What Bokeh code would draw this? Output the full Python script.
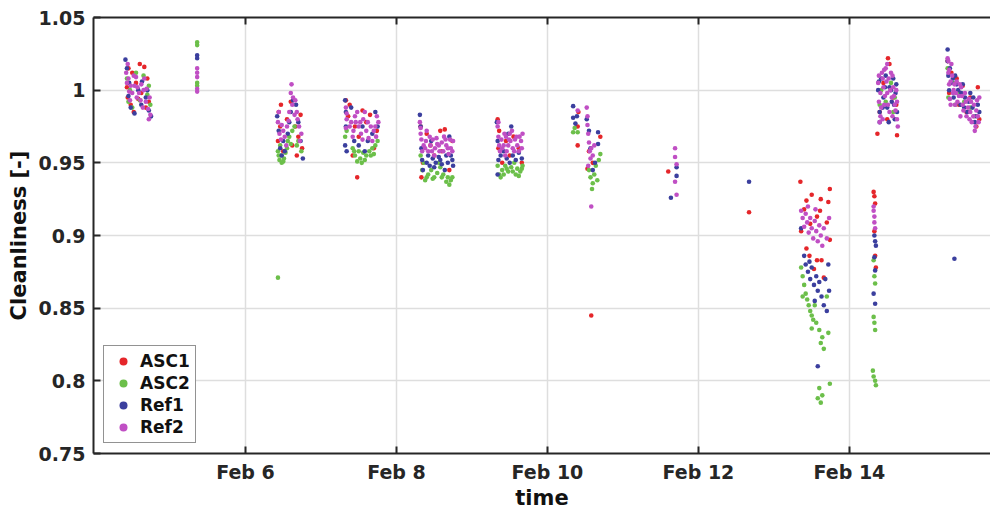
from bokeh.plotting import figure
from bokeh.models import (FixedTicker, CustomJSTickFormatter, NumeralTickFormatter,
                          LinearAxis, Range1d)
from bokeh.embed import file_html
from bokeh.resources import INLINE

# ---------------- data (time in days of February, cleanliness [-]) ----------------
series_names = ["ASC1", "ASC2", "Ref1", "Ref2"]
series_colors = ["#e5262a", "#6cbf4a", "#3b3f9e", "#c04fc4"]
x_tick_days = [6, 8, 10, 12, 14]
y_ticks = [0.75, 0.8, 0.85, 0.9, 0.95, 1.0, 1.05]

asc1_points = [
    (4.45, 1.015), (4.50, 1.012), (4.60, 1.018), (4.66, 1.016), (4.44, 0.995), (4.48, 0.990),
    (4.55, 1.005), (4.62, 0.998), (4.70, 1.008), (4.72, 0.992), (4.52, 0.985), (4.68, 0.988),
    (4.43, 1.002), (4.58, 0.994),
    (6.44, 0.985), (6.46, 0.975), (6.43, 0.965), (6.50, 0.958), (6.55, 0.980), (6.60, 0.992),
    (6.66, 0.975), (6.70, 0.968), (6.73, 0.983), (6.75, 0.960), (6.62, 0.962), (6.68, 0.955),
    (6.47, 0.990),
    (7.33, 0.993), (7.38, 0.990), (7.55, 0.986), (7.45, 0.975), (7.50, 0.968), (7.60, 0.978),
    (7.70, 0.960), (7.74, 0.972), (7.48, 0.940), (7.42, 0.955), (7.65, 0.983), (7.36, 0.982),
    (8.32, 0.975), (8.40, 0.970), (8.58, 0.972), (8.64, 0.973), (8.35, 0.950), (8.50, 0.955),
    (8.70, 0.945), (8.45, 0.962), (8.60, 0.958), (8.74, 0.965), (8.33, 0.940),
    (9.34, 0.980), (9.36, 0.972), (9.45, 0.965), (9.55, 0.968), (9.62, 0.960), (9.66, 0.950),
    (9.40, 0.950), (9.50, 0.955), (9.35, 0.960),
    (10.41, 0.985), (10.40, 0.962), (10.40, 0.975), (10.70, 0.968), (10.53, 0.946),
    (10.55, 0.958), (10.60, 0.950), (10.58, 0.845),
    (11.60, 0.944),
    (12.67, 0.916),
    (13.35, 0.937), (13.74, 0.932), (13.50, 0.928), (13.43, 0.924), (13.72, 0.923),
    (13.61, 0.917), (13.57, 0.913), (13.36, 0.903), (13.74, 0.897), (13.43, 0.891),
    (13.47, 0.886), (13.57, 0.883), (13.63, 0.883), (13.53, 0.877), (13.66, 0.871),
    (13.40, 0.918), (13.48, 0.908), (13.70, 0.909), (13.62, 0.925),
    (14.32, 0.930), (14.33, 0.927), (14.34, 0.922), (14.33, 0.903), (14.34, 0.886), (14.35, 0.878),
    (14.51, 1.022), (14.53, 1.018), (14.37, 0.970), (14.63, 0.969), (14.45, 1.005),
    (14.58, 0.995), (14.40, 0.985), (14.62, 0.990), (14.50, 0.980),
    (15.30, 1.020), (15.35, 1.012), (15.42, 1.008), (15.50, 1.003), (15.60, 0.995),
    (15.70, 1.002), (15.72, 0.980), (15.68, 0.975), (15.45, 0.990), (15.55, 0.985), (15.32, 0.998),
]

asc2_points = [
    (4.43, 1.008), (4.47, 1.000), (4.55, 1.012), (4.65, 1.010), (4.70, 0.997), (4.74, 0.990),
    (4.60, 0.993), (4.50, 0.988), (4.45, 0.992), (4.72, 1.003),
    (5.36, 1.033), (5.36, 1.031), (5.36, 1.005), (5.36, 1.003),
    (6.43, 0.958), (6.45, 0.952), (6.48, 0.950), (6.51, 0.953), (6.53, 0.957), (6.46, 0.962),
    (6.58, 0.968), (6.62, 0.972), (6.65, 0.975), (6.70, 0.965), (6.74, 0.958), (6.55, 0.960),
    (6.60, 0.963), (6.44, 0.955), (6.47, 0.955), (6.50, 0.951), (6.56, 0.965), (6.68, 0.962),
    (6.43, 0.871),
    (7.32, 0.968), (7.34, 0.972), (7.42, 0.960), (7.45, 0.955), (7.48, 0.951), (7.52, 0.953),
    (7.56, 0.957), (7.60, 0.955), (7.64, 0.958), (7.68, 0.960), (7.72, 0.962), (7.75, 0.965),
    (7.50, 0.958), (7.44, 0.958), (7.54, 0.950), (7.58, 0.952), (7.66, 0.955), (7.70, 0.956),
    (8.32, 0.955), (8.34, 0.945), (8.38, 0.938), (8.42, 0.942), (8.46, 0.945), (8.50, 0.940),
    (8.54, 0.943), (8.58, 0.947), (8.62, 0.942), (8.66, 0.937), (8.70, 0.935), (8.74, 0.940),
    (8.36, 0.950), (8.56, 0.950), (8.40, 0.940), (8.48, 0.939), (8.60, 0.940), (8.68, 0.940),
    (8.72, 0.938),
    (9.34, 0.948), (9.36, 0.942), (9.40, 0.945), (9.44, 0.948), (9.48, 0.944), (9.52, 0.947),
    (9.56, 0.950), (9.60, 0.946), (9.64, 0.944), (9.67, 0.948), (9.38, 0.940), (9.58, 0.942),
    (9.42, 0.942), (9.46, 0.946), (9.54, 0.944), (9.62, 0.941), (9.66, 0.946),
    (10.34, 0.971), (10.36, 0.974), (10.40, 0.971), (10.55, 0.945), (10.57, 0.940),
    (10.60, 0.936), (10.62, 0.942), (10.64, 0.948), (10.66, 0.938), (10.70, 0.956),
    (10.68, 0.952), (10.59, 0.932),
    (13.36, 0.878), (13.38, 0.872), (13.40, 0.866), (13.42, 0.860), (13.44, 0.856),
    (13.46, 0.852), (13.48, 0.848), (13.50, 0.845), (13.52, 0.842), (13.54, 0.852),
    (13.56, 0.840), (13.60, 0.835), (13.62, 0.826), (13.64, 0.830), (13.72, 0.833),
    (13.50, 0.836), (13.60, 0.795), (13.74, 0.798), (13.58, 0.788), (13.62, 0.785),
    (13.64, 0.790), (13.70, 0.858), (13.38, 0.858), (13.66, 0.822),
    (14.32, 0.883), (14.34, 0.867), (14.33, 0.872), (14.32, 0.844), (14.34, 0.835),
    (14.31, 0.807), (14.32, 0.803), (14.34, 0.800), (14.35, 0.797), (14.33, 0.840),
    (14.42, 1.000), (14.55, 1.005), (14.60, 0.995), (14.40, 0.990), (14.48, 0.992), (14.58, 0.985),
    (15.30, 1.015), (15.31, 0.995), (15.38, 1.005), (15.45, 0.998), (15.52, 0.992),
    (15.60, 0.988), (15.66, 0.982), (15.40, 0.990),
]

ref1_points = [
    (4.41, 1.021), (4.43, 1.015), (4.46, 1.005), (4.48, 0.988), (4.53, 0.984), (4.58, 1.000),
    (4.63, 1.006), (4.68, 0.995), (4.72, 0.986), (4.75, 0.982), (4.70, 1.000), (4.45, 0.996),
    (4.62, 0.990),
    (5.36, 1.024), (5.36, 1.022),
    (6.42, 0.982), (6.44, 0.972), (6.46, 0.960), (6.48, 0.955), (6.52, 0.958), (6.56, 0.970),
    (6.60, 0.985), (6.63, 0.993), (6.67, 0.990), (6.70, 0.978), (6.73, 0.965), (6.76, 0.953),
    (6.50, 0.965), (6.58, 0.978),
    (7.32, 0.993), (7.33, 0.985), (7.33, 0.975), (7.32, 0.962), (7.34, 0.958), (7.40, 0.988),
    (7.44, 0.965), (7.50, 0.962), (7.55, 0.975), (7.62, 0.965), (7.68, 0.970), (7.72, 0.985),
    (7.75, 0.975), (7.58, 0.958),
    (8.31, 0.983), (8.32, 0.975), (8.33, 0.960), (8.35, 0.945), (8.40, 0.950), (8.44, 0.948),
    (8.48, 0.953), (8.52, 0.950), (8.56, 0.954), (8.60, 0.949), (8.64, 0.945), (8.68, 0.950),
    (8.72, 0.955), (8.75, 0.948), (8.70, 0.968), (8.46, 0.965), (8.34, 0.952), (8.42, 0.955),
    (8.50, 0.947), (8.58, 0.952), (8.66, 0.955), (8.74, 0.952),
    (9.33, 0.978), (9.34, 0.965), (9.35, 0.952), (9.38, 0.955), (9.42, 0.958), (9.46, 0.953),
    (9.50, 0.950), (9.54, 0.955), (9.58, 0.952), (9.62, 0.957), (9.66, 0.953), (9.48, 0.970),
    (9.52, 0.975), (9.34, 0.942),
    (10.34, 0.989), (10.34, 0.981), (10.39, 0.982), (10.52, 0.980), (10.55, 0.972),
    (10.67, 0.971), (10.67, 0.963), (10.60, 0.945), (10.63, 0.950), (10.57, 0.960), (10.37, 0.977),
    (11.71, 0.947), (11.71, 0.941), (11.635, 0.926),
    (12.67, 0.937),
    (13.36, 0.905), (13.40, 0.886), (13.42, 0.880), (13.45, 0.875), (13.48, 0.870),
    (13.50, 0.878), (13.53, 0.866), (13.56, 0.872), (13.58, 0.862), (13.60, 0.868),
    (13.63, 0.858), (13.66, 0.852), (13.70, 0.848), (13.73, 0.862), (13.68, 0.870),
    (13.54, 0.855), (13.47, 0.882), (13.58, 0.810), (13.72, 0.880),
    (14.33, 0.900), (14.34, 0.896), (14.35, 0.893), (14.34, 0.876), (14.32, 0.860),
    (14.34, 0.853), (14.33, 0.885),
    (14.38, 1.000), (14.40, 0.985), (14.42, 1.008), (14.45, 0.995), (14.48, 1.010),
    (14.50, 0.988), (14.53, 1.002), (14.56, 0.992), (14.58, 1.008), (14.61, 0.998),
    (14.63, 0.985), (14.40, 0.978), (14.52, 0.978), (14.60, 0.980), (14.39, 1.006),
    (14.44, 0.988), (14.47, 1.002), (14.55, 1.000), (14.59, 0.990), (14.62, 1.004),
    (15.30, 1.028), (15.30, 1.020), (15.31, 1.010), (15.32, 1.000), (15.35, 1.005),
    (15.38, 0.995), (15.40, 1.010), (15.44, 1.000), (15.47, 0.990), (15.50, 1.004),
    (15.53, 0.995), (15.56, 0.985), (15.60, 0.998), (15.63, 0.988), (15.66, 0.978),
    (15.70, 0.990), (15.72, 0.985), (15.33, 1.015), (15.37, 1.008), (15.42, 1.004),
    (15.48, 0.998), (15.52, 0.988), (15.58, 0.992), (15.64, 0.995), (15.68, 0.982),
    (15.39, 0.884),
]

ref2_points = [
    (4.42, 1.012), (4.45, 1.008), (4.48, 1.003), (4.50, 0.998), (4.53, 1.003), (4.56, 0.995),
    (4.59, 0.998), (4.62, 1.004), (4.65, 1.000), (4.68, 0.992), (4.71, 0.987), (4.74, 0.983),
    (4.73, 0.995), (4.47, 0.993), (4.55, 1.009), (4.66, 1.008), (4.44, 1.018), (4.43, 1.005),
    (4.46, 0.999), (4.52, 1.010), (4.57, 1.002), (4.61, 0.993), (4.64, 0.988), (4.69, 1.001),
    (4.72, 0.980),
    (5.36, 1.015), (5.36, 1.012), (5.36, 1.009), (5.36, 1.001), (5.36, 0.999),
    (6.43, 0.978), (6.45, 0.970), (6.47, 0.966), (6.50, 0.972), (6.52, 0.968), (6.55, 0.975),
    (6.58, 0.985), (6.60, 0.998), (6.61, 1.004), (6.63, 0.995), (6.66, 0.993), (6.68, 0.985),
    (6.71, 0.975), (6.74, 0.970), (6.54, 0.962), (6.48, 0.976), (6.44, 0.985), (6.57, 0.979),
    (6.62, 0.990), (6.65, 0.983), (6.69, 0.980), (6.72, 0.965),
    (7.33, 0.988), (7.34, 0.980), (7.33, 0.974), (7.40, 0.978), (7.43, 0.972), (7.46, 0.978),
    (7.50, 0.975), (7.53, 0.970), (7.56, 0.980), (7.60, 0.972), (7.63, 0.967), (7.66, 0.975),
    (7.70, 0.972), (7.73, 0.968), (7.76, 0.978), (7.48, 0.985), (7.58, 0.985), (7.34, 0.984),
    (7.38, 0.975), (7.42, 0.968), (7.45, 0.982), (7.52, 0.978), (7.55, 0.966), (7.62, 0.978),
    (7.68, 0.965), (7.72, 0.975), (7.74, 0.982),
    (8.31, 0.978), (8.32, 0.970), (8.33, 0.966), (8.36, 0.962), (8.39, 0.965), (8.42, 0.958),
    (8.45, 0.962), (8.48, 0.966), (8.51, 0.960), (8.54, 0.963), (8.57, 0.958), (8.60, 0.964),
    (8.63, 0.968), (8.66, 0.962), (8.69, 0.956), (8.72, 0.960), (8.75, 0.965), (8.50, 0.955),
    (8.40, 0.972), (8.32, 0.974), (8.34, 0.958), (8.38, 0.960), (8.44, 0.968), (8.47, 0.958),
    (8.53, 0.967), (8.56, 0.962), (8.62, 0.958), (8.65, 0.966), (8.68, 0.960), (8.71, 0.966),
    (8.74, 0.958),
    (9.34, 0.975), (9.35, 0.968), (9.36, 0.962), (9.39, 0.966), (9.42, 0.962), (9.45, 0.968),
    (9.48, 0.962), (9.51, 0.965), (9.54, 0.960), (9.57, 0.966), (9.60, 0.962), (9.63, 0.968),
    (9.66, 0.960), (9.50, 0.970), (9.44, 0.955), (9.35, 0.978), (9.37, 0.958), (9.40, 0.960),
    (9.43, 0.970), (9.46, 0.958), (9.49, 0.966), (9.53, 0.972), (9.56, 0.958), (9.59, 0.968),
    (9.62, 0.958), (9.65, 0.965), (9.67, 0.970),
    (10.40, 0.986), (10.52, 0.988), (10.53, 0.982), (10.53, 0.976), (10.54, 0.970),
    (10.55, 0.964), (10.56, 0.958), (10.57, 0.953), (10.58, 0.960), (10.60, 0.955),
    (10.62, 0.962), (10.58, 0.920), (10.54, 0.948),
    (11.69, 0.960), (11.69, 0.954), (11.69, 0.937), (11.71, 0.928), (11.71, 0.949),
    (13.36, 0.917), (13.38, 0.912), (13.40, 0.906), (13.42, 0.915), (13.44, 0.909),
    (13.46, 0.902), (13.48, 0.912), (13.50, 0.905), (13.52, 0.898), (13.54, 0.910),
    (13.56, 0.903), (13.58, 0.896), (13.60, 0.907), (13.62, 0.900), (13.64, 0.893),
    (13.66, 0.905), (13.70, 0.898), (13.73, 0.912), (13.45, 0.920), (13.55, 0.918),
    (14.32, 0.917), (14.33, 0.913), (14.33, 0.909), (14.34, 0.905), (14.32, 0.920),
    (14.38, 1.005), (14.39, 0.992), (14.41, 0.982), (14.43, 1.012), (14.45, 1.002),
    (14.46, 0.990), (14.48, 1.015), (14.50, 0.998), (14.52, 1.008), (14.53, 0.985),
    (14.55, 1.012), (14.56, 0.995), (14.58, 1.002), (14.60, 0.990), (14.62, 1.000),
    (14.63, 0.980), (14.64, 0.975), (14.44, 0.980), (14.50, 1.018), (14.57, 0.982),
    (14.39, 1.010), (14.41, 0.998), (14.42, 0.988), (14.44, 1.008), (14.47, 0.996),
    (14.49, 1.006), (14.51, 0.990), (14.54, 1.000), (14.57, 1.010), (14.59, 0.996),
    (14.61, 0.986), (14.63, 0.992), (14.46, 1.014), (14.40, 0.978),
    (15.30, 1.022), (15.31, 1.012), (15.32, 1.004), (15.33, 0.994), (15.36, 1.010),
    (15.38, 1.000), (15.40, 0.990), (15.42, 1.006), (15.45, 0.996), (15.48, 1.002),
    (15.50, 0.990), (15.53, 0.998), (15.55, 0.982), (15.58, 0.994), (15.60, 0.985),
    (15.62, 0.978), (15.65, 0.990), (15.67, 0.975), (15.70, 0.982), (15.72, 0.995),
    (15.66, 0.972), (15.35, 1.018), (15.31, 1.020), (15.32, 1.014), (15.34, 1.006),
    (15.37, 0.998), (15.39, 1.004), (15.41, 0.998), (15.43, 0.992), (15.46, 1.004),
    (15.49, 0.996), (15.51, 0.986), (15.54, 0.992), (15.57, 0.988), (15.59, 0.980),
    (15.61, 0.992), (15.64, 0.982), (15.68, 0.986), (15.71, 0.978), (15.69, 0.993),
    (15.34, 0.990), (15.47, 0.982),
]

all_points = [asc1_points, asc2_points, ref1_points, ref2_points]

# ---------------- figure ----------------
FONT = "DejaVu Sans"
AX = "#262626"

p = figure(width=990, height=512, output_backend="svg", toolbar_location=None,
           x_range=Range1d(3.987, 15.868), y_range=Range1d(0.75, 1.05),
           min_border_left=93, min_border_right=0, min_border_top=17, min_border_bottom=59)

p.outline_line_color = None

for pts, name, col in zip(all_points, series_names, series_colors):
    t = [a for a, _ in pts]
    v = [b for _, b in pts]
    p.scatter(t, v, marker="circle", size=4.6, fill_color=col, line_color=None,
              legend_label=name)

xfmt = CustomJSTickFormatter(code="return 'Feb ' + Math.round(tick);")
p.xaxis.ticker = FixedTicker(ticks=x_tick_days)
p.xaxis.formatter = xfmt
p.yaxis.ticker = FixedTicker(ticks=y_ticks)
p.yaxis.formatter = NumeralTickFormatter(format="0.[00]")

for ax in [p.xaxis[0], p.yaxis[0]]:
    ax.axis_line_color = AX
    ax.axis_line_width = 2
    ax.major_tick_line_color = AX
    ax.major_tick_line_width = 2
    ax.major_tick_in = 7
    ax.major_tick_out = 0
    ax.minor_tick_line_color = None
    ax.major_label_text_font = FONT
    ax.major_label_text_font_style = "bold"
    ax.major_label_text_font_size = "19px"
    ax.major_label_text_color = AX
    ax.axis_label_text_font = FONT
    ax.axis_label_text_font_style = "bold"
    ax.axis_label_text_font_size = "21px"
    ax.axis_label_text_color = "#111111"

p.xaxis.axis_label = "time"
p.yaxis.axis_label = "Cleanliness [-]"
p.xaxis.major_label_standoff = 7
p.xaxis.axis_label_standoff = 0
p.yaxis.major_label_standoff = 8
p.yaxis.axis_label_standoff = 5

# top frame edge with inward tick marks only (no labels): ticks given as minor ticks
top = LinearAxis(ticker=FixedTicker(ticks=[], minor_ticks=x_tick_days),
                 axis_line_color=AX, axis_line_width=2,
                 major_tick_line_color=None,
                 minor_tick_line_color=AX, minor_tick_line_width=2,
                 minor_tick_in=7, minor_tick_out=0)
p.add_layout(top, "above")

p.xgrid.ticker = FixedTicker(ticks=x_tick_days)
p.ygrid.ticker = FixedTicker(ticks=y_ticks)
for g in [p.xgrid[0], p.ygrid[0]]:
    g.grid_line_color = "#dedede"
    g.grid_line_width = 1.5

lg = p.legend[0]
lg.location = "bottom_left"
lg.margin = 10
lg.border_line_color = AX
lg.border_line_width = 1.5
lg.label_text_font = FONT
lg.label_text_font_style = "bold"
lg.label_text_font_size = "17px"
lg.label_text_color = "#111111"
lg.glyph_width = 28
lg.glyph_height = 20
lg.label_height = 20
lg.label_standoff = 3
lg.spacing = 2
lg.padding = 5
lg.background_fill_alpha = 1

open("out.html", "w").write(file_html(p, INLINE))
